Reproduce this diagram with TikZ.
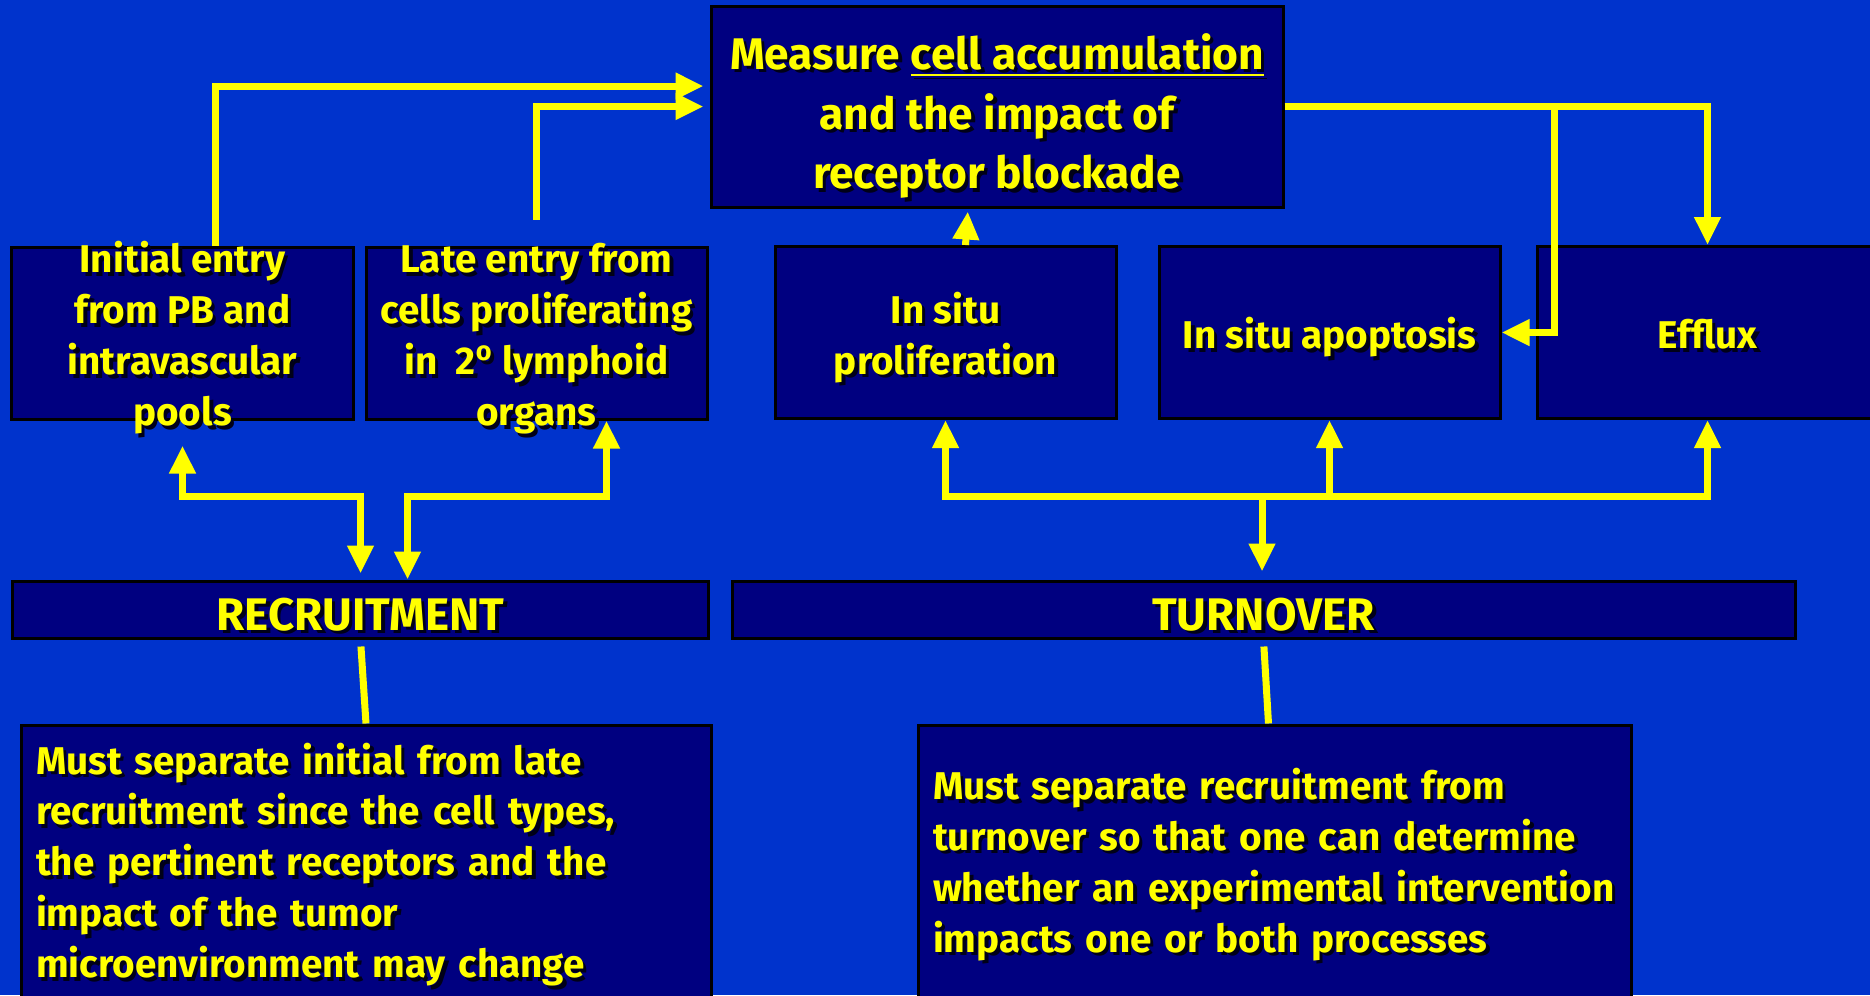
\documentclass[tikz,border=0pt]{standalone}
\usepackage{fontspec}
\setmainfont{Fira Sans}
\usetikzlibrary{arrows.meta, calc}
\definecolor{slide}{RGB}{0,51,204}
\definecolor{panel}{RGB}{0,0,128}
\definecolor{ink}{RGB}{255,255,0}
\definecolor{shade}{RGB}{0,0,24}
% stacked lines of text, with a dark copy behind them
\newcommand{\lines}[2][c]{{\setlength{\tabcolsep}{0pt}\begin{tabular}{#1}#2\end{tabular}}}
\newcommand{\shadowed}[2][c]{\rlap{\kern1pt\raisebox{-1pt}{\color{shade}\lines[#1]{#2}}}\lines[#1]{#2}}
\tikzset{
    >={Triangle[width=0.25cm, length=0.28cm]},
    box/.style={draw=black, line width=0.03cm, fill=panel, text=ink, inner sep=0pt,
        font=\bfseries\fontsize{11}{14.5}\selectfont},
    cell/.style={box, minimum width=3.41cm, minimum height=1.72cm, text height=9pt, text depth=0pt},
    band/.style={box, minimum height=0.57cm, text height=12pt, text depth=0pt,
        font=\bfseries\fontsize{13}{14.5}\selectfont},
    note/.style={box, minimum height=2.85cm, align=left},
    flow/.style={ink, line width=0.07cm},
}

\begin{document}
\begin{tikzpicture}
    \useasboundingbox (0,0) rectangle (18.70,-9.95);
    \fill[slide] (0,0) rectangle (18.70,-9.95);
    % top box
    \node[box, minimum width=5.72cm, minimum height=2.01cm, text height=12pt, text depth=0pt,
        font=\bfseries\fontsize{12.6}{17}\selectfont]
        (measure) at (9.97,-1.065) {\shadowed{Measure \underline{cell accumulation}\\and the impact of\\receptor blockade}};
    % entry and turnover cells
    \node[cell] (initial) at (1.825,-3.33) {\shadowed{Initial entry\\from PB and\\intravascular\\pools}};
    \node[cell] (late) at (5.365,-3.33) {\shadowed{Late entry from\\cells proliferating\\in~~2\textsuperscript{o} lymphoid\\organs}};
    \foreach \name/\x/\txt in {prolif/9.455/{In situ\\proliferation}, apopt/13.295/{In situ apoptosis}, efflux/17.075/{Efflux}}
        \node[cell] (\name) at (\x,-3.325) {\shadowed{\txt}};
    % the two processes
    \node[band, minimum width=6.95cm] (recruit) at (3.605,-6.095) {\shadowed{RECRUITMENT}};
    \node[band, minimum width=10.63cm] (turnover) at (12.635,-6.095) {\shadowed{TURNOVER}};
    \node[note, minimum width=6.90cm, text width=6.60cm] (noteL) at (3.66,-8.675)
        {\noindent\shadowed[l]{Must separate initial from late\\recruitment since the cell types,\\the pertinent receptors and the\\impact of the tumor\\microenvironment may change}};
    \node[note, minimum width=7.13cm, text width=6.83cm] (noteR) at (12.745,-8.675)
        {\noindent\shadowed[l]{Must separate recruitment from\\turnover so that one can determine\\whether an experimental intervention\\impacts one or both processes}};
    % feeds into the top box
    \draw[flow, ->, shorten >=0.06cm] ([xshift=0.33cm]initial.north) |- ([yshift=0.205cm]measure.west);
    \draw[flow, ->, shorten >=0.06cm] ([yshift=0.26cm]late.north) |- (measure.west);
    \draw[flow, ->, shorten >=0.03cm] ([xshift=0.2cm]prolif.north) -- ([xshift=-0.29cm]measure.south);
    \draw[flow, ->] (measure.east) -| (efflux.north);
    \coordinate (split) at (15.54,-1.07);
    \draw[flow, ->] (split) |- (apopt.east);
    % recruitment
    \draw[flow, <->] ([yshift=-0.25cm]initial.south) |- ([yshift=0.83cm]recruit.north) -- ([yshift=0.06cm]recruit.north);
    \draw[flow, <->] ([xshift=0.70cm]late.south) |- ([xshift=0.47cm, yshift=0.83cm]recruit.north) -- ([xshift=0.47cm]recruit.north);
    % turnover
    \coordinate (hub) at ([xshift=-0.015cm, yshift=0.83cm]turnover.north);
    \draw[flow, ->] (hub) -- ([xshift=-0.015cm, yshift=0.08cm]turnover.north);
    \foreach \n in {prolif,apopt,efflux}
        \draw[flow, ->] (hub) -| (\n.south);
    % notes
    \draw[flow, shorten <=0.07cm] (recruit.south) -- (noteL.north);
    \draw[flow, shorten <=0.07cm] (turnover.south) -- ([xshift=-0.06cm]noteR.north);
\end{tikzpicture}
\end{document}
